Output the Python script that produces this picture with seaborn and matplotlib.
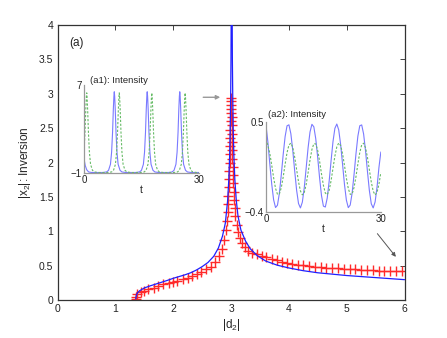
import matplotlib
matplotlib.use("Agg")
import matplotlib.pyplot as plt
import seaborn as sns
import pandas as pd

# ---------------- main panel data ----------------
blue_d2 = [1.35, 1.36, 1.38, 1.42, 1.5, 1.6, 1.75, 1.9, 2.0, 2.1, 2.2, 2.3, 2.4, 2.5,
           2.6, 2.7, 2.78, 2.85, 2.9, 2.94, 2.96, 2.975, 2.985, 2.993, 2.998, 3.002,
           3.018, 3.022, 3.028, 3.036, 3.048, 3.065, 3.09, 3.12, 3.17, 3.25, 3.33,
           3.45, 3.6, 3.8, 4.0, 4.25, 4.5, 4.75, 5.0, 5.25, 5.5, 5.75, 6.0]
blue_x2 = [0.02, 0.07, 0.11, 0.14, 0.18, 0.21, 0.25, 0.29, 0.32, 0.345, 0.37, 0.40, 0.44, 0.49,
           0.55, 0.64, 0.76, 0.93, 1.12, 1.45, 1.75, 2.1, 2.5, 3.0, 3.5, 4.2,
           4.2, 3.5, 3.0, 2.5, 2.1, 1.75, 1.45, 1.22, 1.02, 0.86, 0.75,
           0.65, 0.57, 0.51, 0.47, 0.43, 0.40, 0.38, 0.36, 0.345, 0.33, 0.315, 0.30]

red_d2 = [1.35, 1.357, 1.38, 1.44, 1.50, 1.57, 1.66, 1.74, 1.83, 1.92, 1.99, 2.07, 2.16,
          2.25, 2.33, 2.41, 2.48, 2.57, 2.65, 2.73, 2.79, 2.84, 2.88, 2.91, 2.93, 2.945,
          2.95, 2.955, 2.96, 2.965, 2.97, 2.975, 2.978, 2.981, 2.984, 2.987, 2.99, 2.992,
          2.994, 2.996,
          3.004, 3.006, 3.008, 3.011, 3.014, 3.017, 3.02, 3.024, 3.028, 3.032, 3.037,
          3.043, 3.05, 3.06, 3.075, 3.095, 3.12, 3.15, 3.19, 3.24, 3.3, 3.37, 3.45,
          3.53, 3.61, 3.7, 3.79, 3.88, 3.97, 4.06, 4.15, 4.25, 4.35, 4.45, 4.55, 4.65,
          4.75, 4.85, 4.95, 5.05, 5.15, 5.25, 5.35, 5.45, 5.55, 5.65, 5.75, 5.85, 5.95]
red_x2 = [0.015, 0.05, 0.09, 0.115, 0.14, 0.16, 0.18, 0.21, 0.23, 0.25, 0.27, 0.285, 0.31,
          0.33, 0.35, 0.38, 0.415, 0.45, 0.49, 0.55, 0.64, 0.75, 0.88, 1.02, 1.15, 1.28,
          1.40, 1.52, 1.64, 1.76, 1.88, 2.0, 2.12, 2.24, 2.36, 2.48, 2.6, 2.72,
          2.84, 2.94,
          2.9, 2.78, 2.66, 2.54, 2.42, 2.30, 2.18, 2.06, 1.94, 1.82, 1.70,
          1.58, 1.46, 1.34, 1.22, 1.10, 0.99, 0.90, 0.83, 0.77, 0.72, 0.69, 0.67,
          0.645, 0.625, 0.60, 0.58, 0.56, 0.545, 0.53, 0.52, 0.51, 0.50, 0.49, 0.48, 0.475,
          0.47, 0.465, 0.46, 0.455, 0.45, 0.445, 0.44, 0.435, 0.43, 0.43, 0.425, 0.425, 0.42]

# ---------------- inset (a1) data ----------------
a1_blue_t = [0, 0.3, 0.7, 1.2, 2.0,
             4.9, 5.9, 6.4, 6.9, 7.2, 7.45, 7.65, 7.8, 7.9, 8.0, 8.15, 8.35, 8.6, 8.9, 9.4, 9.9, 10.9,
             13.5, 14.5, 15.0, 15.5, 15.8, 16.05, 16.25, 16.4, 16.5, 16.6, 16.75, 16.95, 17.2, 17.5, 18.0, 18.5, 19.5,
             22.0, 23.0, 23.5, 24.0, 24.3, 24.55, 24.75, 24.9, 25.0, 25.1, 25.25, 25.45, 25.7, 26.0, 26.5, 27.0, 28.0,
             30.0]
a1_blue_I = [0.3, -0.3, -0.7, -0.9, -0.95,
             -0.95, -0.9, -0.75, -0.2, 0.9, 2.7, 4.8, 6.0, 6.4, 6.0, 4.8, 2.7, 0.9, -0.2, -0.75, -0.9, -0.95,
             -0.95, -0.9, -0.75, -0.2, 0.9, 2.7, 4.8, 6.0, 6.4, 6.0, 4.8, 2.7, 0.9, -0.2, -0.75, -0.9, -0.95,
             -0.95, -0.9, -0.75, -0.2, 0.9, 2.7, 4.8, 6.0, 6.4, 6.0, 4.8, 2.7, 0.9, -0.2, -0.75, -0.9, -0.95,
             -0.95]
a1_green_t = [0, 0.25, 0.45, 0.6, 0.7, 0.8, 0.95, 1.15, 1.4, 1.7, 2.2, 2.7, 3.7,
              6.2, 7.2, 7.7, 8.2, 8.5, 8.75, 8.95, 9.1, 9.2, 9.3, 9.45, 9.65, 9.9, 10.2, 10.7, 11.2, 12.2,
              14.7, 15.7, 16.2, 16.7, 17.0, 17.25, 17.45, 17.6, 17.7, 17.8, 17.95, 18.15, 18.4, 18.7, 19.2, 19.7, 20.7,
              23.4, 24.4, 24.9, 25.4, 25.7, 25.95, 26.15, 26.3, 26.4, 26.5, 26.65, 26.85, 27.1, 27.4, 27.9, 28.4, 29.4,
              30.0]
a1_green_I = [0.9, 2.7, 4.7, 5.9, 6.3, 5.9, 4.7, 2.7, 0.9, -0.2, -0.75, -0.9, -0.95,
              -0.95, -0.9, -0.75, -0.2, 0.9, 2.7, 4.7, 5.9, 6.3, 5.9, 4.7, 2.7, 0.9, -0.2, -0.75, -0.9, -0.95,
              -0.95, -0.9, -0.75, -0.2, 0.9, 2.7, 4.7, 5.9, 6.3, 5.9, 4.7, 2.7, 0.9, -0.2, -0.75, -0.9, -0.95,
              -0.95, -0.9, -0.75, -0.2, 0.9, 2.7, 4.7, 5.9, 6.3, 5.9, 4.7, 2.7, 0.9, -0.2, -0.75, -0.9, -0.95,
              -0.95]

# ---------------- inset (a2) data ----------------
a2_t = [0, 0.5, 1, 1.5, 2, 2.5, 3, 3.5, 4, 4.5, 5, 5.5, 6, 6.5, 7, 7.5, 8, 8.5, 9, 9.5,
        10, 10.5, 11, 11.5, 12, 12.5, 13, 13.5, 14, 14.5, 15, 15.5, 16, 16.5, 17, 17.5,
        18, 18.5, 19, 19.5, 20, 20.5, 21, 21.5, 22, 22.5, 23, 23.5, 24, 24.5, 25, 25.5,
        26, 26.5, 27, 27.5, 28, 28.5, 29, 29.5, 30]
a2_blue = [0.47, 0.30, 0.082, -0.120, -0.279, -0.356, -0.333, -0.214, -0.030, 0.176, 0.354, 0.462,
           0.472, 0.383, 0.216, 0.011, -0.182, -0.316, -0.360, -0.302, -0.158, 0.040, 0.242, 0.400,
           0.477, 0.452, 0.333, 0.148, -0.058, -0.236, -0.342, -0.351, -0.261, -0.094, 0.111, 0.303,
           0.437, 0.480, 0.421, 0.275, 0.078, -0.124, -0.282, -0.357, -0.331, -0.211, -0.026, 0.180,
           0.358, 0.463, 0.471, 0.380, 0.212, 0.007, -0.185, -0.318, -0.360, -0.300, -0.154, 0.044,
           0.20]
a2_green = [0.33, 0.267, 0.186, 0.069, -0.058, -0.164, -0.223, -0.221, -0.158, -0.050, 0.077, 0.193,
            0.270, 0.289, 0.245, 0.149, 0.025, -0.098, -0.190, -0.229, -0.206, -0.125, -0.007, 0.119,
            0.225, 0.283, 0.281, 0.217, 0.109, -0.019, -0.134, -0.211, -0.228, -0.184, -0.088, 0.036,
            0.159, 0.251, 0.290, 0.265, 0.184, 0.066, -0.061, -0.166, -0.224, -0.220, -0.156, -0.048,
            0.080, 0.195, 0.271, 0.288, 0.243, 0.147, 0.022, -0.100, -0.192, -0.230, -0.205, -0.123,
            -0.005]

main_xticks = [0, 1, 2, 3, 4, 5, 6]
main_yticks = [0, 0.5, 1, 1.5, 2, 2.5, 3, 3.5, 4]
main_yticklabels = ["0", "0.5", "1", "1.5", "2", "2.5", "3", "3.5", "4"]

# ---------------- styling ----------------
sns.set_theme(style="white")
plt.rcParams["font.family"] = ["Liberation Sans", "DejaVu Sans"]
plt.rcParams["mathtext.default"] = "regular"
plt.rcParams["axes.unicode_minus"] = True

fig = plt.figure(figsize=(4.47, 3.38), dpi=100)
ax = fig.add_axes([0.129, 0.1115, 0.776, 0.8145])

df_blue = pd.DataFrame({"d2": blue_d2, "x2": blue_x2})
df_red = pd.DataFrame({"d2": red_d2, "x2": red_x2})

sns.lineplot(data=df_blue, x="d2", y="x2", sort=False, estimator=None,
             color="#2020ff", linewidth=0.9, ax=ax, zorder=3)
sns.scatterplot(data=df_red, x="d2", y="x2", marker="+", s=42, color="#ff2a2a",
                linewidth=1.0, ax=ax, zorder=2)

ax.set_xlim(0, 6)
ax.set_ylim(0, 4)
ax.set_xticks(main_xticks)
ax.set_xticklabels([str(v) for v in main_xticks])
ax.set_yticks(main_yticks)
ax.set_yticklabels(main_yticklabels)
ax.tick_params(direction="in", top=True, right=True, length=3.5, width=0.6,
               labelsize=7.5, pad=3, colors="#222222")
for s in ax.spines.values():
    s.set_color("#333333")
    s.set_linewidth(0.9)
ax.set_xlabel("|d$_2$|", fontsize=8.5, labelpad=2)
ax.set_ylabel("|x$_2$|: Inversion", fontsize=8.5, labelpad=4)
ax.text(0.2, 3.74, "(a)", fontsize=8.5, va="center", ha="left")

ax.annotate("", xy=(2.86, 2.95), xytext=(2.47, 2.95),
            arrowprops=dict(arrowstyle="-|>", color="#999999", lw=1.0,
                            mutation_scale=6), zorder=4)
ax.annotate("", xy=(5.88, 0.6), xytext=(5.50, 1.0),
            arrowprops=dict(arrowstyle="-|>", color="#555555", lw=0.7,
                            mutation_scale=6), zorder=4)

# ---------------- inset a1 ----------------
ax1 = fig.add_axes([0.188, 0.488, 0.257, 0.260])
ax1.patch.set_alpha(0)
sns.lineplot(x=a1_blue_t, y=a1_blue_I, sort=False, estimator=None,
             color="#7a7aff", linewidth=0.8, ax=ax1)
sns.lineplot(x=a1_green_t, y=a1_green_I, sort=False, estimator=None,
             color="#66bb66", linewidth=0.8, linestyle=(0, (2, 1.5)), ax=ax1)
ax1.set_xlim(0, 30)
ax1.set_ylim(-1, 7)
ax1.set_xticks([0, 30])
ax1.set_yticks([-1, 7])
ax1.set_xticklabels(["0", "30"])
ax1.set_yticklabels(["\u22121", "7"])
ax1.tick_params(length=0, labelsize=7, pad=1.5, colors="#222222")
ax1.set_xlabel("t", fontsize=7.5, labelpad=0)
ax1.set_ylabel("")
for side in ["top", "right"]:
    ax1.spines[side].set_visible(False)
for side in ["left", "bottom"]:
    ax1.spines[side].set_color("#999999")
    ax1.spines[side].set_linewidth(0.9)
ax1.text(0.05, 1.0, "(a1): Intensity", transform=ax1.transAxes,
         fontsize=6.8, ha="left", va="bottom")

# ---------------- inset a2 ----------------
ax2 = fig.add_axes([0.595, 0.373, 0.257, 0.266])
ax2.patch.set_alpha(0)
sns.lineplot(x=a2_t, y=a2_blue, sort=False, estimator=None,
             color="#7a7aff", linewidth=0.8, ax=ax2)
sns.lineplot(x=a2_t, y=a2_green, sort=False, estimator=None,
             color="#66bb66", linewidth=0.8, linestyle=(0, (2, 1.5)), ax=ax2)
ax2.set_xlim(0, 30)
ax2.set_ylim(-0.4, 0.5)
ax2.set_xticks([0, 30])
ax2.set_yticks([-0.4, 0.5])
ax2.set_xticklabels(["0", "30"])
ax2.set_yticklabels(["\u22120.4", "0.5"])
ax2.tick_params(length=0, labelsize=7, pad=1.5, colors="#222222")
ax2.set_xlabel("t", fontsize=7.5, labelpad=0)
ax2.set_ylabel("")
for side in ["top", "right"]:
    ax2.spines[side].set_visible(False)
for side in ["left", "bottom"]:
    ax2.spines[side].set_color("#999999")
    ax2.spines[side].set_linewidth(0.9)
ax2.text(0.02, 1.03, "(a2): Intensity", transform=ax2.transAxes,
         fontsize=6.8, ha="left", va="bottom")

fig.savefig("out.png", dpi=100)
